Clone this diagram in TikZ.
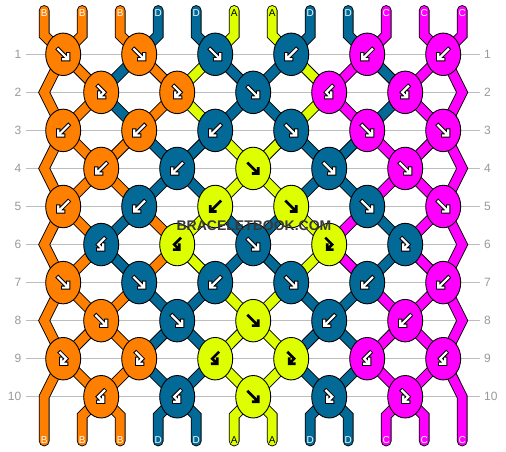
\documentclass[tikz,border=0pt]{standalone}
\usepackage{fontspec}
\setmainfont{Liberation Sans}
\usetikzlibrary{shapes.geometric}
\definecolor{cB}{HTML}{FF7F00}
\definecolor{cD}{HTML}{036A97}
\definecolor{cA}{HTML}{DDFF00}
\definecolor{cC}{HTML}{FF00FF}
\definecolor{gridgray}{HTML}{BDBDBD}
\definecolor{labgray}{HTML}{9A9A9A}
\definecolor{wmgray}{HTML}{383838}
\pgfdeclarelayer{grid}
\pgfdeclarelayer{strings}
\pgfsetlayers{grid,strings,main}
\def\glyphSE{(-5,-5) -- (3.5,3.5) (0,5) -- (5,5) -- (5,0)}
\def\glyphSW{(5,-5) -- (-3.5,3.5) (0,5) -- (-5,5) -- (-5,0)}
\def\glyphFB{(-3,-6) -- (3,0) -- (-0.6,3.6) (-2,0) -- (-2,5) -- (3,5)}
\def\glyphBF{(3,-6) -- (-3,0) -- (0.6,3.6) (2,0) -- (2,5) -- (-3,5)}
\tikzset{
  knot/.style={ellipse, draw=black, line width=0.9pt, minimum width=35pt, minimum height=42.5pt, inner sep=0pt},
  strand/.style={draw=black, line width=0.9pt, double=c#1, double distance=9pt, line join=miter},
  arrout/.style={black, line width=4.2pt, line cap=rect, line join=miter},
  arrin/.style={white, line width=2.2pt, line cap=rect, line join=miter},
  arrlime/.style={black, line width=2.6pt, line cap=rect, line join=miter},
  rowlab/.style={text=labgray, font=\fontsize{12}{12}\selectfont, inner sep=0pt},
  endlab/.style={font=\fontsize{10}{10}\selectfont, inner sep=0pt},
  gridline/.style={gridgray, line width=1.3pt},
  wmtext/.style={font=\bfseries\fontsize{14}{14}\selectfont, inner sep=0pt}
}
\begin{document}
\begin{tikzpicture}[x=1pt, y=-1pt]
\useasboundingbox (0,0) rectangle (506,452);
\begin{pgfonlayer}{grid}
\fill[white] (0,0) rectangle (506,452);
\end{pgfonlayer}
% row labels and grid lines
\foreach \r in {1,...,10} {
  \pgfmathsetmacro\yy{54.3+38.05*(\r-1)}
  \node[rowlab, anchor=east] (ll-\r) at (21.5,\yy) {\r};
  \node[rowlab, anchor=west] (rl-\r) at (484,\yy) {\r};
  \begin{pgfonlayer}{grid}
  \draw[gridline] ([xshift=4.5pt]ll-\r.east) -- ([xshift=-4pt]rl-\r.west);
  \end{pgfonlayer}
}
% knots
\foreach \r/\kl in {
 1/{B/SE,B/SE,D/SE,D/SW,C/SW,C/SW},
 2/{B/FB,B/FB,D/SE,C/BF,C/BF},
 3/{B/SW,B/SW,D/SW,D/SE,C/SE,C/SE},
 4/{B/SW,D/SW,A/SE,D/SE,C/SE},
 5/{B/SW,D/SW,A/SW,A/SE,D/SE,C/SE},
 6/{D/BF,A/BF,D/SE,A/FB,D/FB},
 7/{B/SE,D/SE,D/SW,D/SE,D/SW,C/SW},
 8/{B/SE,D/SE,A/SE,D/SW,C/SW},
 9/{B/FB,B/FB,A/BF,A/FB,C/BF,C/BF},
 10/{B/BF,D/BF,A/SE,D/FB,C/FB}} {
  \foreach \col/\g [count=\k] in \kl {
    \pgfmathsetmacro\yy{54.3+38.05*(\r-1)}
    \ifodd\r\relax
      \pgfmathsetmacro\xx{63.2+76*(\k-1)}
    \else
      \pgfmathsetmacro\xx{101.2+76*(\k-1)}
    \fi
    \node[knot, fill=c\col] (n-\r-\k) at (\xx,\yy) {};
    \expandafter\let\expandafter\gp\csname glyph\g\endcsname
    \if A\col
      \draw[arrlime, shift={(n-\r-\k.center)}] \gp;
    \else
      \draw[arrout, shift={(n-\r-\k.center)}] \gp;
      \draw[arrin, shift={(n-\r-\k.center)}] \gp;
    \fi
  }
}
% strings
\begin{pgfonlayer}{strings}
\foreach \r/\cl in {
 1/{B,D,B,A,D,D,A,C,D,C},
 2/{B,D,B,A,D,D,A,C,D,C},
 3/{B,B,D,D,A,A,D,D,C,C},
 4/{B,B,D,D,A,A,D,D,C,C},
 5/{B,D,B,A,D,D,A,C,D,C},
 6/{B,D,B,A,D,D,A,C,D,C},
 7/{B,B,D,D,A,A,D,D,C,C},
 8/{B,B,D,D,A,A,D,D,C,C},
 9/{B,B,D,D,A,A,D,D,C,C}} {
  \pgfmathtruncatemacro\rn{\r+1}
  \foreach \col [count=\p from 2] in \cl {
    \pgfmathtruncatemacro\hi{ceil(\p/2)}
    \pgfmathtruncatemacro\lo{floor(\p/2)}
    \ifodd\r\relax
      \draw[strand=\col] (n-\r-\hi.center) -- (n-\rn-\lo.center);
    \else
      \draw[strand=\col] (n-\r-\lo.center) -- (n-\rn-\hi.center);
    \fi
  }
}
\foreach \r in {1,3,5,7} {
  \pgfmathtruncatemacro\rr{\r+2}
  \pgfmathsetmacro\ym{54.3+38.05*\r}
  \draw[strand=B] (n-\r-1.center) -- (44.2,\ym) -- (n-\rr-1.center);
  \draw[strand=C] (n-\r-6.center) -- (462.2,\ym) -- (n-\rr-6.center);
}
\foreach \col [count=\i] in {B,B,B,D,D,A,A,D,D,C,C,C} {
  \pgfmathsetmacro\xx{44.2+38*(\i-1)}
  \pgfmathtruncatemacro\kk{ceil(\i/2)}
  \pgfmathtruncatemacro\jj{floor(\i/2)}
  \coordinate (top-\i) at (\xx,10.5);
  \coordinate (bot-\i) at (\xx,441);
  \draw[strand=\col, line cap=round] (top-\i) -- (\xx,35.3) -- (n-1-\kk.center);
  \ifnum\i=1\relax
    \draw[strand=\col, line cap=round] (n-9-1.center) -- (\xx,396.75) -- (bot-\i);
  \else\ifnum\i=12\relax
    \draw[strand=\col, line cap=round] (n-9-6.center) -- (\xx,396.75) -- (bot-\i);
  \else
    \draw[strand=\col, line cap=round] (n-10-\jj.center) -- (\xx,415.75) -- (bot-\i);
  \fi\fi
}
\end{pgfonlayer}
% end labels
\foreach \col [count=\i] in {B,B,B,D,D,A,A,D,D,C,C,C} {
  \pgfmathsetmacro\xx{44.2+38*(\i-1)}
  \if A\col
    \node[endlab, text=black] (tl-\i) at (\xx,13) {\col};
    \node[endlab, text=black] (bl-\i) at (\xx,440) {\col};
  \else
    \node[endlab, text=white] (tl-\i) at (\xx,13) {\col};
    \node[endlab, text=white] (bl-\i) at (\xx,440) {\col};
  \fi
}
% watermark
\node[wmtext, text=wmgray] (wm) at (254,226) {BRACELETBOOK.COM};
\end{tikzpicture}
\end{document}
